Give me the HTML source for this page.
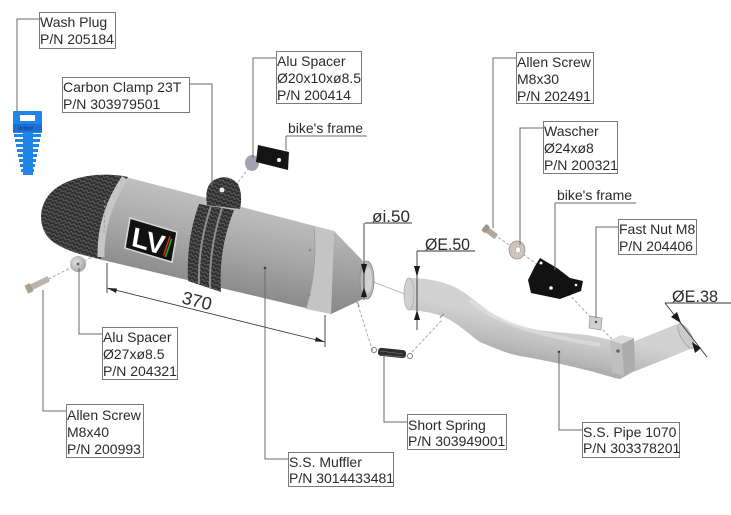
<!DOCTYPE html>
<html><head><meta charset="utf-8"><style>
html,body{margin:0;padding:0;background:#fff;}
svg{display:block;}
text{font-family:"Liberation Sans",sans-serif;fill:#2a2a2a;font-size:14px;}
</style></head><body>
<svg width="731" height="515" viewBox="0 0 731 515" xmlns="http://www.w3.org/2000/svg">
<defs>
 <pattern id="cf" width="5" height="4" patternUnits="userSpaceOnUse" patternTransform="rotate(20)">
  <rect width="5" height="4" fill="#303030"/>
  <path d="M0,2 Q1.25,0.2 2.5,2 T5,2" stroke="#6e6e6e" fill="none" stroke-width="0.7"/>
 </pattern>
 <linearGradient id="body" gradientUnits="userSpaceOnUse" x1="212" y1="195" x2="192" y2="292">
  <stop offset="0" stop-color="#c0c0c0"/><stop offset="0.45" stop-color="#a9a9a9"/><stop offset="1" stop-color="#868686"/>
 </linearGradient>
 <linearGradient id="cone" gradientUnits="userSpaceOnUse" x1="350" y1="240" x2="345" y2="310">
  <stop offset="0" stop-color="#b4b4b4"/><stop offset="1" stop-color="#8a8a8a"/>
 </linearGradient>
 <linearGradient id="pipe" gradientUnits="userSpaceOnUse" x1="525" y1="320" x2="515" y2="368">
  <stop offset="0" stop-color="#d2d2d2"/><stop offset="0.5" stop-color="#bdbdbd"/><stop offset="1" stop-color="#9c9c9c"/>
 </linearGradient>
 <radialGradient id="sp" cx="0.4" cy="0.4" r="0.7">
  <stop offset="0" stop-color="#e4e4e4"/><stop offset="1" stop-color="#9c9c9c"/>
 </radialGradient>
</defs>

<!-- dashed assembly lines -->
<g stroke="#a0a0a0" stroke-width="0.9" stroke-dasharray="3,2" fill="none">
 <path d="M35,286 L78,264 L102,252 L188,200"/>
 <path d="M238,182 L253,163 L279,158"/>
 <path d="M490,232 L517,250 L548,272 L595,322 L619,346"/>
 <path d="M358,305 L373,352"/>
 <path d="M412,352 L442,320"/>
</g>
<path d="M368,280 L410,296" stroke="#b0b0b0" stroke-width="0.9" fill="none"/>

<!-- Wash plug -->
<g fill="#1f86e8">
 <rect x="13" y="111" width="29" height="22" rx="1"/>
 <rect x="23" y="133" width="10" height="42"/>
 <rect x="14" y="134" width="27" height="3"/>
 <rect x="15" y="139" width="25" height="3"/>
 <rect x="16" y="144" width="23" height="3"/>
 <rect x="17" y="149" width="21" height="3"/>
 <rect x="18" y="154" width="19" height="3"/>
 <rect x="19" y="159" width="17" height="3"/>
 <rect x="20" y="164" width="15" height="3"/>
 <rect x="21" y="169" width="13" height="3"/>
</g>
<rect x="20" y="115" width="15" height="6" fill="#fff"/>
<rect x="13" y="124" width="29" height="8" fill="#1a6fd0"/>
<text x="18" y="130" style="font-size:5px;fill:#0d3c80;font-style:italic">Ibdiani</text>

<!-- Muffler body -->
<path d="M118,175 L334,231 L331,314 L94,258 Z" fill="url(#body)"/>
<!-- cone -->
<path d="M334,231 L362,260 Q372,280 363,299 L331,314 Z" fill="url(#cone)"/>
<ellipse cx="367" cy="280" rx="7" ry="19" fill="#b9b9b9" stroke="#8a8a8a" stroke-width="0.8"/>
<ellipse cx="368" cy="280" rx="4" ry="13" fill="#d2d2d2"/>
<!-- right ring -->
<path d="M314,226 L334,231 L331,314 L306,309 Q318,268 314,226 Z" fill="#c4c4c4"/>
<path d="M314,226 Q318,268 306,309" stroke="#9a9a9a" stroke-width="0.8" fill="none"/>
<circle cx="310" cy="250" r="1.3" fill="#888"/><circle cx="309" cy="295" r="1.3" fill="#888"/>
<!-- carbon cap -->
<path d="M128,177 C100,171 70,177 55,189 C37,203 37,229 52,241 C65,251 85,256 101,259 Q96,215 128,177 Z" fill="url(#cf)"/>
<path d="M125,178 Q100,215 101,257" stroke="#c6c6c6" stroke-width="7" fill="none"/>
<path d="M105,200 L104,235" stroke="#999" stroke-width="0.8" stroke-dasharray="3,2"/>

<!-- clamp -->
<path d="M199,204 L234,210 Q218,250 221,292 L188,281 Q186,240 199,204 Z" fill="url(#cf)"/>
<path d="M211,206 Q198,245 199,284" stroke="#8e8e8e" stroke-width="2" fill="none"/>
<path d="M222,208 Q209,248 210,288" stroke="#8e8e8e" stroke-width="2" fill="none"/>
<path d="M207,205 Q204,186 214,180 Q228,173 238,184 Q243,195 240,209 Z" fill="url(#cf)"/>
<circle cx="222" cy="190" r="2.5" fill="#eee"/>

<!-- LV logo -->
<g transform="translate(130,218) matrix(1,0.3,-0.17,1,0,0)">
 <rect x="0" y="0" width="47" height="30" fill="#121212" stroke="#d8d8d8" stroke-width="1.5"/>
 <text x="5" y="26" style="font-size:27px;font-weight:bold;fill:#fff">LV</text>
 <path d="M41,6 L38,26" stroke="#d22" stroke-width="1.5"/>
 <path d="M43,8 L40,27" stroke="#2a2" stroke-width="1.5"/>
</g>

<!-- dimension 370 -->
<g stroke="#333" stroke-width="0.9" fill="none">
 <path d="M107,263 V293"/>
 <path d="M325,315 V347"/>
 <path d="M107,288 L325,342"/>
</g>
<polygon points="107,288 117,288.5 116,293" fill="#222"/>
<polygon points="325,342 315,341.5 316,337" fill="#222"/>
<text x="197" y="307" text-anchor="middle" transform="rotate(14 197 301)" style="font-size:18px">370</text>

<!-- leader dots -->
<circle cx="265" cy="268" r="1.3" fill="#333"/>

<!-- small parts left -->
<g transform="translate(38,284) rotate(-26)">
 <rect x="-11" y="-3" width="23" height="6" rx="1" fill="#bdb4ab"/>
 <rect x="-13" y="-4.5" width="6" height="9" rx="1" fill="#a99f95"/>
</g>
<circle cx="78" cy="264" r="8" fill="url(#sp)"/>
<circle cx="78" cy="264" r="1.5" fill="#666"/>
<ellipse cx="252" cy="163" rx="7" ry="8" fill="#a2a2b4"/>
<polygon points="258,145 289,152 288,170 256,162" fill="#141414"/>
<circle cx="279" cy="160" r="2" fill="#fff"/>

<!-- pipe -->
<path d="M409,278 C425,278 445,281 460,290 C472,297 485,310 500,318 C512,325 525,328 545,331 L587,335 L612,340 L633,342 L677,324 L693,348 L633,372 L620,379 C610,377 602,374 590,371 C570,366 550,361 520,356 C505,353 495,348 480,342 C470,335 462,327 450,320 C440,314 425,311 408,310 Z" fill="url(#pipe)"/>
<path d="M470,300 C490,318 520,332 600,345" stroke="#e2e2e2" stroke-width="4" fill="none" opacity="0.6"/>
<ellipse cx="409" cy="294" rx="5" ry="16" fill="#d0d0d0" stroke="#a8a8a8" stroke-width="0.7"/>
<!-- boss -->
<polygon points="610,340 622,335 634,338 622,344" fill="#dcdcdc"/>
<polygon points="610,340 622,344 624,376 612,372" fill="#c0c0c0"/>
<polygon points="622,344 634,338 635,369 624,376" fill="#acacac"/>
<circle cx="618" cy="351" r="1.8" fill="#666"/>
<!-- outlet flange -->
<ellipse cx="686" cy="336" rx="5" ry="14" transform="rotate(-30 686 336)" fill="#cbcbcb" stroke="#999" stroke-width="0.7"/>
<circle cx="559" cy="352" r="1.3" fill="#333"/>

<!-- spring -->
<rect x="378" y="349" width="28" height="8" rx="3" fill="#2e2e2e" transform="rotate(6 392 353)"/>
<path d="M380,351 L403,354 M381,355 L404,357" stroke="#888" stroke-width="0.6"/>
<circle cx="374" cy="350" r="2.5" fill="none" stroke="#777" stroke-width="1"/>
<circle cx="410" cy="356" r="2.5" fill="none" stroke="#777" stroke-width="1"/>
<path d="M356,301 q3,3 3,6" stroke="#888" fill="none"/>
<path d="M440,318 q2,-3 4,-4" stroke="#888" fill="none"/>

<!-- right small parts -->
<g transform="translate(490,232) rotate(38)">
 <rect x="-7" y="-3" width="15" height="6" rx="1" fill="#b1a89f"/>
 <rect x="-8" y="-4" width="5" height="8" rx="1" fill="#9e958c"/>
</g>
<ellipse cx="517" cy="250" rx="8" ry="9" fill="#cdc5bd" stroke="#9a9189" stroke-width="0.8"/>
<ellipse cx="518" cy="250" rx="2.5" ry="3" fill="#fff" stroke="#999" stroke-width="0.5"/>
<path d="M540,258 L557,268 L570,278 L583,281 L581,291 L560,299 L531,293 L528,280 L535,266 Z" fill="#121212"/>
<circle cx="541" cy="263" r="1.5" fill="#fff"/><circle cx="551" cy="288" r="1.8" fill="#fff"/><circle cx="576" cy="285" r="1.3" fill="#fff"/>
<polygon points="590,316 602,318 601,330 589,328" fill="#cfcfcf" stroke="#999" stroke-width="0.7"/>
<circle cx="596" cy="322" r="1.2" fill="#444"/>

<!-- dimension diameters -->
<g stroke="#333" stroke-width="0.9" fill="none">
 <path d="M365,223 H412"/><path d="M364,223 V300"/>
 <path d="M417,251 H475"/><path d="M417,251 V330"/>
 <path d="M665,303 H731"/><path d="M665,303 L707,357"/>
</g>
<g fill="#1a1a1a">
 <polygon points="361,264 367,264 364,275"/>
 <polygon points="361,297 367,297 364,287"/>
 <polygon points="414,266 420,266 417,277"/>
 <polygon points="414,320 420,320 417,310"/>
 <polygon points="671,317 677,312 681,323"/>
 <polygon points="701,348 695,353 692,342"/>
</g>
<text x="372" y="222" textLength="38" lengthAdjust="spacingAndGlyphs" style="font-size:17px">øi.50</text>
<text x="425" y="250" textLength="45" lengthAdjust="spacingAndGlyphs" style="font-size:17px">ØE.50</text>
<text x="672" y="302" textLength="46" lengthAdjust="spacingAndGlyphs" style="font-size:17px">ØE.38</text>

<!-- leaders -->
<g stroke="#6a6a6a" stroke-width="1" fill="none">
 <path d="M39,19 H17 V112"/>
 <path d="M189,84 H212 V187"/>
 <path d="M276,58 H253 V158"/>
 <path d="M286,136 H367 M286,136 V150"/>
 <path d="M516,58 H493 V228"/>
 <path d="M543,128 H520 V245"/>
 <path d="M555,203 H636 M555,203 V270"/>
 <path d="M618,227 H596 V318"/>
 <path d="M102,334 H79 V268"/>
 <path d="M66,411 H43 V290"/>
 <path d="M288,459 H265 V268"/>
 <path d="M407,422 H384 V356"/>
 <path d="M582,430 H559 V352"/>
</g>

<!-- label boxes -->
<g fill="#fff" stroke="#7a7a7a" stroke-width="1">
 <rect x="39.5" y="12.5" width="76" height="36"/>
 <rect x="62.5" y="77.5" width="127" height="35"/>
 <rect x="276.5" y="51.5" width="85" height="52"/>
 <rect x="516.5" y="52.5" width="77" height="51"/>
 <rect x="543.5" y="121.5" width="74" height="52"/>
 <rect x="618.5" y="219.5" width="78" height="35"/>
 <rect x="102.5" y="327.5" width="75" height="52"/>
 <rect x="66.5" y="404.5" width="77" height="53"/>
 <rect x="288.5" y="452.5" width="105" height="34"/>
 <rect x="407.5" y="414.5" width="99" height="35"/>
 <rect x="582.5" y="422.5" width="97" height="35"/>
</g>

<text x="40" y="27">Wash Plug</text><text x="40" y="44">P/N 205184</text>
<text x="63" y="92">Carbon Clamp 23T</text><text x="63" y="109">P/N 303979501</text>
<text x="277" y="66">Alu Spacer</text><text x="277" y="83">Ø20x10xø8.5</text><text x="277" y="100">P/N 200414</text>
<text x="288" y="133">bike's frame</text>
<text x="517" y="67">Allen Screw</text><text x="517" y="84">M8x30</text><text x="517" y="101">P/N 202491</text>
<text x="544" y="136">Wascher</text><text x="544" y="153">Ø24xø8</text><text x="544" y="170">P/N 200321</text>
<text x="557" y="200">bike's frame</text>
<text x="619" y="234">Fast Nut M8</text><text x="619" y="251">P/N 204406</text>
<text x="103" y="342">Alu Spacer</text><text x="103" y="359">Ø27xø8.5</text><text x="103" y="376">P/N 204321</text>
<text x="67" y="420">Allen Screw</text><text x="67" y="437">M8x40</text><text x="67" y="454">P/N 200993</text>
<text x="289" y="467">S.S. Muffler</text><text x="289" y="483">P/N 3014433481</text>
<text x="408" y="430">Short Spring</text><text x="408" y="446">P/N 303949001</text>
<text x="583" y="437">S.S. Pipe 1070</text><text x="583" y="453">P/N 303378201</text>
</svg>
</body></html>
